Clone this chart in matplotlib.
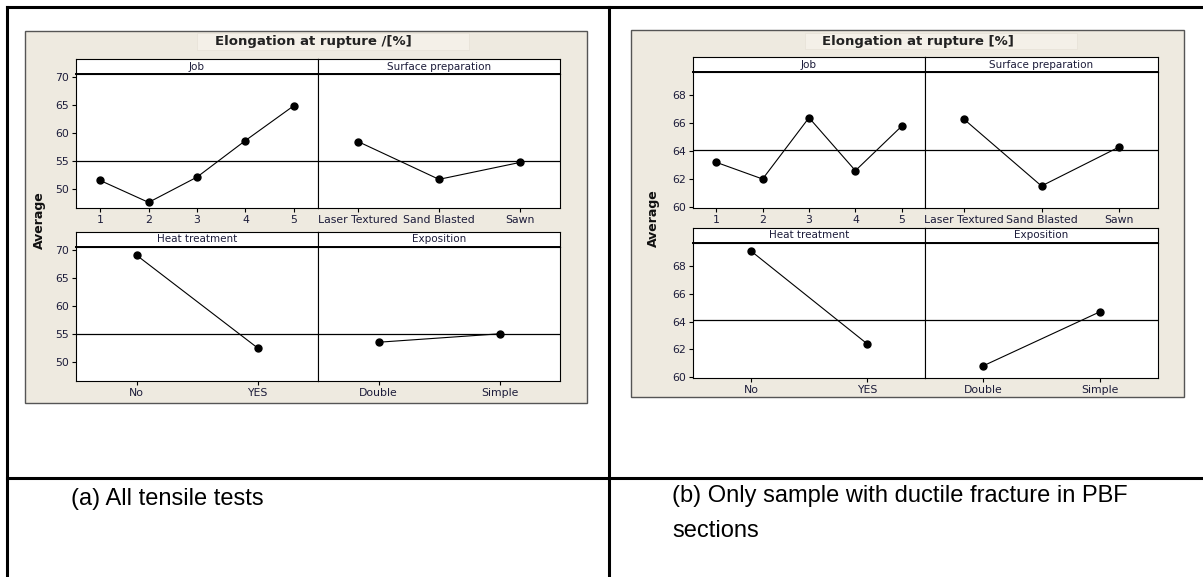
import numpy as np
import matplotlib
matplotlib.use("Agg")
from matplotlib import pyplot as plt
from matplotlib.patches import Rectangle
from matplotlib.lines import Line2D

# values
job_levels = ["1", "2", "3", "4", "5"]
surface_levels = ["Laser Textured", "Sand Blasted", "Sawn"]
heat_levels = ["No", "YES"]
expo_levels = ["Double", "Simple"]

a_job = [51.5, 47.6, 52.1, 58.6, 64.8]
a_surface = [58.4, 51.7, 54.7]
a_heat = [69.0, 52.5]
a_expo = [53.5, 55.0]
a_mean = 54.95

b_job = [63.2, 62.0, 66.4, 62.6, 65.8]
b_surface = [66.3, 61.5, 64.3]
b_heat = [69.1, 62.4]
b_expo = [60.8, 64.7]
b_mean = 64.1

W, H = 1203, 577
fig = plt.figure(figsize=(W / 100, H / 100), dpi=100)
fig.patch.set_facecolor("white")

beige = "#EEEAE0"
txtcol = "#1c1c3a"


def px_axes(x0, y0, x1, y1, **kw):
    return fig.add_axes([x0 / W, 1 - y1 / H, (x1 - x0) / W, (y1 - y0) / H], **kw)


def px_rect(x0, y0, x1, y1, **kw):
    r = Rectangle((x0 / W, 1 - y1 / H), (x1 - x0) / W, (y1 - y0) / H,
                  transform=fig.transFigure, **kw)
    fig.patches.append(r)


def px_line(x0, y0, x1, y1, **kw):
    fig.lines.append(Line2D([x0 / W, x1 / W], [1 - y0 / H, 1 - y1 / H],
                            transform=fig.transFigure, **kw))


def strip(x0, y0, x1, y1, label):
    s = px_axes(x0, y0, x1, y1)
    s.set_xticks([])
    s.set_yticks([])
    s.set_facecolor("white")
    for sp in s.spines.values():
        sp.set_linewidth(0.8)
    s.spines["bottom"].set_linewidth(1.4)
    s.text(0.5, 0.5, label, ha="center", va="center", fontsize=7.5,
           color=txtcol, transform=s.transAxes)


def panel(x0, y0, x1, y1, levels, vals, mean, ylim, yticks, show_y):
    ax = px_axes(x0, y0, x1, y1)
    xs = np.arange(len(levels))
    ax.axhline(mean, color="black", lw=0.9)
    ax.plot(xs, vals, color="black", lw=0.8, marker="o", markersize=5)
    ax.set_xlim(-0.5, len(levels) - 0.5)
    ax.set_ylim(ylim)
    ax.set_xticks(xs)
    ax.set_xticklabels(levels)
    ax.set_yticks(yticks)
    if not show_y:
        ax.tick_params(axis="y", left=False, labelleft=False)
    ax.tick_params(length=3, width=0.8, pad=2, labelsize=7.8, colors="black",
                   labelcolor=txtcol)
    for sp in ax.spines.values():
        sp.set_linewidth(0.8)
    return ax


def chart(bx0, by0, bx1, by1, title, tbox, title_x, cols, rows, ylim, yticks,
          job, surface, heat, expo, mean, avg_xy):
    px_rect(bx0, by0, bx1, by1, facecolor=beige, edgecolor="#555555", lw=1.0,
            zorder=-10)
    px_rect(*tbox, facecolor="#F4F0E8", edgecolor="#E6E1D6", lw=0.5, zorder=-9)
    fig.text(title_x / W, 1 - ((tbox[1] + tbox[3]) / 2) / H,
             title, ha="center", va="center", fontsize=9.5, fontweight="bold",
             color="#222222")
    fig.text(avg_xy[0] / W, 1 - avg_xy[1] / H, "Average", rotation=90,
             ha="center", va="center", fontsize=9, fontweight="bold", color="#111111")
    (c0, c1, c2) = cols
    (t_s, t_d, t_b), (u_s, u_d, u_b) = rows
    strip(c0, t_s, c1, t_d, "Job")
    strip(c1, t_s, c2, t_d, "Surface preparation")
    strip(c0, u_s, c1, u_d, "Heat treatment")
    strip(c1, u_s, c2, u_d, "Exposition")
    panel(c0, t_d, c1, t_b, job_levels, job, mean, ylim, yticks, True)
    panel(c1, t_d, c2, t_b, surface_levels, surface, mean, ylim, yticks, False)
    panel(c0, u_d, c1, u_b, heat_levels, heat, mean, ylim, yticks, True)
    panel(c1, u_d, c2, u_b, expo_levels, expo, mean, ylim, yticks, False)


# (a) all tensile tests
chart(25, 31, 587, 403, "Elongation at rupture /[%]", (197, 33, 469, 50), 313,
      (76, 318, 560), ((59, 74, 208), (232, 247, 381)),
      (46.6, 70.45), [50, 55, 60, 65, 70],
      a_job, a_surface, a_heat, a_expo, a_mean, (39, 220))

# (b) ductile fracture only
chart(631, 30, 1184, 397, "Elongation at rupture [%]", (805, 33, 1077, 49), 918,
      (693, 925, 1158), ((57, 72, 208), (228, 243, 378)),
      (59.92, 69.68), [60, 62, 64, 66, 68],
      b_job, b_surface, b_heat, b_expo, b_mean, (653, 218))

# table lines around the two figures
lw_t = 2.2
px_line(7, 7, W, 7, color="black", lw=lw_t)
px_line(7, 7, 7, H, color="black", lw=lw_t)
px_line(609, 7, 609, H, color="black", lw=lw_t)
px_line(7, 478, W, 478, color="black", lw=lw_t)

fig.text(71 / W, 1 - 499 / H, "(a) All tensile tests", ha="left", va="center",
         fontsize=17, family="Liberation Sans", color="black")
fig.text(672 / W, 1 - 485 / H, "(b) Only sample with ductile fracture in PBF\nsections",
         ha="left", va="top", fontsize=17, family="Liberation Sans", color="black",
         linespacing=1.75)

plt.savefig("out.png", dpi=100)
